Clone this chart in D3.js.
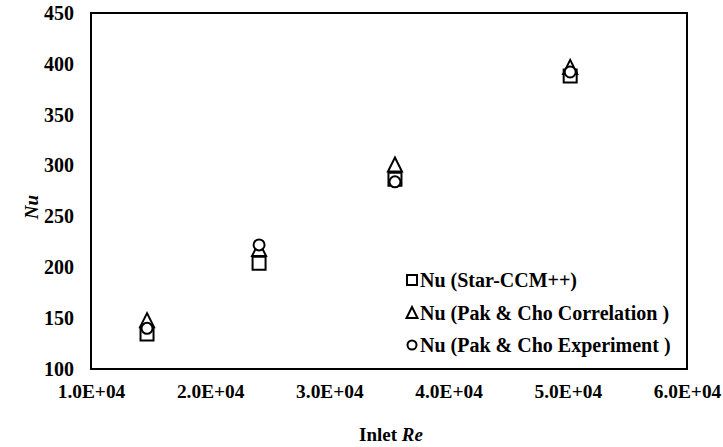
<!DOCTYPE html>
<html>
<head>
<meta charset="utf-8">
<script src="https://cdn.jsdelivr.net/npm/d3@7"></script>
<style>
  html, body { margin: 0; padding: 0; background: #fff; }
  svg { display: block; }
</style>
</head>
<body>
<script>
// Inlet Reynolds numbers of the four test cases
const inletRe = [14700, 24100, 35500, 50200];
// Nusselt numbers per source
const nuStarCCM = [134.5, 204, 286.5, 388];
const nuCorrelation = [148, 218, 301, 397];
const nuExperiment = [140, 222, 284, 392];

const xTicks = [10000, 20000, 30000, 40000, 50000, 60000];
const yTicks = [100, 150, 200, 250, 300, 350, 400, 450];

const seriesNames = [
  "Nu (Star-CCM++)",
  "Nu (Pak & Cho Correlation )",
  "Nu (Pak & Cho Experiment )"
];

const FONT = "'Liberation Serif', 'Times New Roman', 'DejaVu Serif', serif";
const W = 723, H = 447;
const margin = { left: 91, right: 36, top: 13, bottom: 78 };

const svg = d3.select("body").append("svg").attr("width", W).attr("height", H);

const x = d3.scaleLinear().domain([10000, 60000]).range([margin.left, W - margin.right]);
const y = d3.scaleLinear().domain([100, 450]).range([H - margin.bottom, margin.top]);

const fmtSci = v => {
  const e = Math.floor(Math.log10(v));
  const m = v / Math.pow(10, e);
  return m.toFixed(1) + "E+" + String(e).padStart(2, "0");
};

const styleText = sel => sel
  .style("font-family", FONT)
  .style("font-weight", "bold")
  .style("fill", "#000");

// Axes (labels only; the frame is drawn separately)
const xAxis = svg.append("g")
  .attr("transform", `translate(0,${H - margin.bottom})`)
  .call(d3.axisBottom(x).tickValues(xTicks).tickSize(0).tickPadding(15).tickFormat(fmtSci));
xAxis.select(".domain").remove();
xAxis.selectAll("text").call(styleText).style("font-size", "19.4px");

const yAxis = svg.append("g")
  .attr("transform", `translate(${margin.left},0)`)
  .call(d3.axisLeft(y).tickValues(yTicks).tickSize(0).tickPadding(17).tickFormat(d3.format("d")));
yAxis.select(".domain").remove();
yAxis.selectAll("text").call(styleText).style("font-size", "20px");

// Plot frame
svg.append("rect")
  .attr("x", x.range()[0]).attr("y", y.range()[1])
  .attr("width", x.range()[1] - x.range()[0])
  .attr("height", y.range()[0] - y.range()[1])
  .attr("fill", "none").attr("stroke", "#000").attr("stroke-width", 2);

// Axis titles
svg.append("text")
  .attr("x", (x.range()[0] + x.range()[1]) / 2 + 2).attr("y", 441)
  .attr("text-anchor", "middle")
  .call(styleText).style("font-size", "19px")
  .call(t => { t.append("tspan").text("Inlet "); t.append("tspan").style("font-style", "italic").text("Re"); });

svg.append("text")
  .attr("transform", `translate(38,${(y.range()[0] + y.range()[1]) / 2 + 16}) rotate(-90)`)
  .attr("text-anchor", "middle")
  .call(styleText).style("font-size", "19px").style("font-style", "italic")
  .text("Nu");

// Marker shapes
const markerPath = {
  square: s => `M${-s/2},${-s/2}h${s}v${s}h${-s}Z`,
  triangle: s => `M0,${-s/2}L${s/2},${s/2}L${-s/2},${s/2}Z`,
  circle: s => { const r = s / 2; return `M${r},0A${r},${r} 0 1,1 ${-r},0A${r},${r} 0 1,1 ${r},0Z`; }
};

const series = [
  { values: nuStarCCM, shape: "square", size: 13 },
  { values: nuCorrelation, shape: "triangle", size: 14 },
  { values: nuExperiment, shape: "circle", size: 11 }
];

series.forEach(s => {
  svg.append("g").selectAll("path")
    .data(inletRe.map((re, i) => [re, s.values[i]]))
    .join("path")
    .attr("transform", d => `translate(${x(d[0])},${y(d[1])})`)
    .attr("d", markerPath[s.shape](s.size))
    .attr("fill", "#fff").attr("stroke", "#000").attr("stroke-width", 2);
});

// Legend
const legend = svg.append("g").attr("transform", "translate(412,280)");
const legendSizes = [10, 11, 9];
seriesNames.forEach((name, i) => {
  const row = legend.append("g").attr("transform", `translate(0,${i * 32.5})`);
  row.append("path")
    .attr("d", markerPath[series[i].shape](legendSizes[i]))
    .attr("fill", "#fff").attr("stroke", "#000").attr("stroke-width", 2);
  row.append("text").attr("x", 8).attr("y", 7)
    .call(styleText).style("font-size", "20px").text(name);
});
</script>
</body>
</html>
